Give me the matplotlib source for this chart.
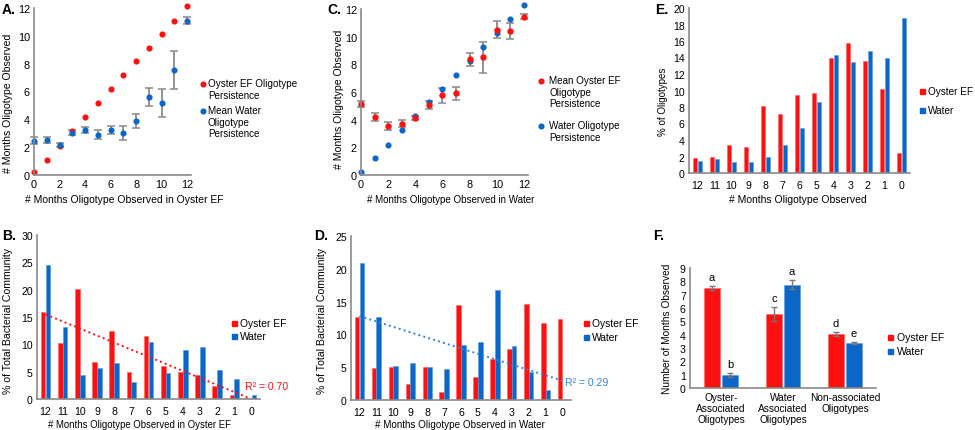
import matplotlib.pyplot as plt
import numpy as np

plt.rcParams['font.family'] = ['Liberation Sans', 'DejaVu Sans']

W, H = 975, 431
RED = '#ff1010'
BLUE = '#0a66c8'
GREY = '#8a8a8a'

# ---- data ----
months = np.arange(13)
month_labels = [str(m) for m in range(12, -1, -1)]

# A: persistence vs months seen in oyster EF
a_oyster = [0.2, 1.1, 2.1, 3.15, 4.2, 5.2, 6.15, 7.15, 8.2, 9.15, 10.15, 11.1, 12.15]
a_water = [2.45, 2.5, 2.15, 3.05, 3.25, 2.9, 3.25, 3.05, 3.9, 5.6, 5.2, 7.55, 11.1]
a_water_err = [0.25, 0.2, 0.15, 0.2, 0.2, 0.3, 0.3, 0.5, 0.5, 0.65, 1.0, 1.35, 0.25]

# C: persistence vs months seen in water
c_water = [0.25, 1.2, 2.2, 3.25, 4.25, 5.25, 6.25, 7.25, 8.25, 9.25, 10.3, 11.3, 12.3]
c_oyster = [5.15, 4.2, 3.55, 3.7, 4.15, 5.05, 5.75, 5.9, 8.35, 8.5, 10.5, 10.4, 11.45]
c_oyster_err = [0.2, 0.3, 0.3, 0.25, 0.15, 0.3, 0.55, 0.45, 0.45, 1.1, 0.6, 0.6, 0.2]

# E: % of oligotypes (months 12 -> 0)
e_oyster = [1.8, 2.0, 3.45, 3.1, 8.1, 7.15, 9.5, 9.7, 13.9, 15.7, 13.55, 10.2, 2.4]
e_water = [1.5, 1.65, 1.3, 1.3, 2.0, 3.45, 5.4, 8.65, 14.25, 13.4, 14.8, 13.9, 18.8]

# B: % of community, months in oyster EF (12 -> 0)
b_oyster = [16.0, 10.2, 20.1, 6.7, 12.5, 4.9, 11.6, 6.1, 4.9, 4.3, 2.4, 0.8, 0]
b_water = [24.5, 13.2, 4.3, 5.7, 6.5, 3.05, 10.5, 4.7, 9.0, 9.45, 5.3, 3.65, 0.65]

# D: % of community, months in water (12 -> 0)
d_oyster = [12.7, 4.9, 5.0, 2.4, 5.0, 1.2, 14.5, 3.45, 6.2, 7.8, 14.7, 11.8, 12.4]
d_water = [20.9, 12.6, 5.2, 5.7, 5.0, 4.8, 8.4, 8.9, 16.75, 8.2, 4.2, 1.6, 0]

# F: mean months observed by association
f_groups = ['Oyster-\nAssociated\nOligotypes', 'Water\nAssociated\nOligotypes',
            'Non-associated\nOligotypes']
f_oyster = [7.5, 5.55, 4.05]
f_oyster_err = [0.15, 0.5, 0.15]
f_water = [0.95, 7.75, 3.35]
f_water_err = [0.15, 0.35, 0.08]
f_oyster_sig = ['a', 'c', 'd']
f_water_sig = ['b', 'a', 'e']

fig = plt.figure(figsize=(W / 100, H / 100), dpi=100)


def add_ax(x0, y0, x1, y1):
    # pixel box (left, top, right, bottom) -> figure axes
    return fig.add_axes([x0 / W, 1 - y1 / H, (x1 - x0) / W, (y1 - y0) / H])


def style(ax, fs=7.8):
    for s in ['top', 'right']:
        ax.spines[s].set_visible(False)
    for s in ['left', 'bottom']:
        ax.spines[s].set_color(GREY)
        ax.spines[s].set_linewidth(1.2)
    ax.tick_params(length=0, labelsize=fs, pad=3)


def ftext(x, y, s, **kw):
    kw.setdefault('fontsize', 7.5)
    fig.text(x / W, 1 - y / H, s, **kw)


def fmark(x, y, color, marker):
    fig.add_artist(plt.Line2D([x / W], [1 - y / H], marker=marker, color=color,
                              markersize=3.4 if marker == 'o' else 3.6, linestyle='none'))


# ---- A ----
ax = add_ax(34, 9, 191, 176)
ax.errorbar(months, a_water, yerr=a_water_err, fmt='none', ecolor=GREY, elinewidth=1.3,
            capsize=2.8, capthick=1.1, clip_on=False)
ax.plot(months, a_oyster, 'o', color=RED, ms=3.4, clip_on=False)
ax.plot(months, a_water, 'o', color=BLUE, ms=3.4, clip_on=False)
ax.set_xlim(0, 12.3)
ax.set_ylim(0, 12)
ax.set_xticks(range(0, 13, 2))
ax.set_yticks(range(0, 13, 2))
style(ax)
ftext(124, 200, '# Months Oligotype Observed in Oyster EF', ha='center', va='center')
ftext(8, 103, '# Months Oligotype Observed', rotation=90, ha='center', va='center',
      fontsize=7.6)
fmark(203, 85, RED, 'o')
ftext(208, 79, 'Oyster EF Oligotype\nPersistence', va='top', linespacing=1.2, fontsize=7.1)
fmark(203, 112, BLUE, 'o')
ftext(208, 106, 'Mean Water\nOligotype\nPersistence', va='top', linespacing=1.2, fontsize=7.1)

# ---- C ----
ax = add_ax(361, 10, 528, 176)
ax.errorbar(months, c_oyster, yerr=c_oyster_err, fmt='none', ecolor=GREY, elinewidth=1.3,
            capsize=2.8, capthick=1.1, clip_on=False)
ax.plot(months, c_water, 'o', color=BLUE, ms=3.4, clip_on=False)
ax.plot(months, c_oyster, 'o', color=RED, ms=3.6, clip_on=False)
ax.set_xlim(0, 12.3)
ax.set_ylim(0, 12)
ax.set_xticks(range(0, 13, 2))
ax.set_yticks(range(0, 13, 2))
style(ax)
ftext(451, 200, '# Months Oligotype Observed in Water', ha='center', va='center', fontsize=7)
ftext(339, 99, '# Months Oligotype Observed', rotation=90, ha='center', va='center',
      fontsize=7.6)
fmark(541, 82, RED, 'o')
ftext(549, 76, 'Mean Oyster EF\nOligotype\nPersistence', va='top', linespacing=1.2, fontsize=7.1)
fmark(541, 127, BLUE, 'o')
ftext(549, 121, 'Water Oligotype\nPersistence', va='top', linespacing=1.2, fontsize=7.1)


# ---- bar helpers ----
def month_bars(ax, oyster, water, ymax, ystep):
    w = 0.27
    ax.bar(months - 0.14, oyster, w, color=RED, edgecolor='#ff6060', linewidth=0.4)
    ax.bar(months + 0.14, water, w, color=BLUE, edgecolor='#5a9ae0', linewidth=0.4)
    ax.set_xlim(-0.5, 12.5)
    ax.set_ylim(0, ymax)
    ax.set_xticks(months)
    ax.set_xticklabels(month_labels)
    ax.set_yticks(np.arange(0, ymax + 0.1, ystep))
    style(ax, 7.6)
    ax.tick_params(axis='x', pad=5)


# ---- E ----
ax = add_ax(689, 9, 910, 174)
month_bars(ax, e_oyster, e_water, 20, 2)
ftext(798, 200, '# Months Oligotype Observed', ha='center', va='center')
ftext(663, 102, '% of Oligotypes', rotation=90, ha='center', va='center', fontsize=7)
fmark(922, 92, RED, 's')
ftext(928, 92, 'Oyster EF', va='center', fontsize=7.2)
fmark(922, 111, BLUE, 's')
ftext(928, 111, 'Water', va='center', fontsize=7.2)

# ---- B ----
ax = add_ax(37, 236, 260, 400)
month_bars(ax, b_oyster, b_water, 30, 5)
fit = np.polyfit(months, b_oyster, 1)
ax.plot(months, np.polyval(fit, months), ':', color=RED, lw=1.4)
ftext(245, 387, 'R² = 0.70', color=RED, va='center', fontsize=7.6)
ftext(140, 425, '# Months Oligotype Observed in Oyster EF', ha='center', va='center',
      fontsize=6.9)
ftext(8, 321, '% of Total Bacterial Community', rotation=90, ha='center', va='center',
      fontsize=7.6)
fmark(234, 324, RED, 's')
ftext(240, 324, 'Oyster EF', va='center', fontsize=7.4)
fmark(234, 337, BLUE, 's')
ftext(240, 337, 'Water', va='center', fontsize=7.4)

# ---- D ----
ax = add_ax(351, 237, 571, 401)
month_bars(ax, d_oyster, d_water, 25, 5)
fit = np.polyfit(months, d_water, 1)
ax.plot(months, np.polyval(fit, months), ':', color='#2f86d6', lw=1.4)
ftext(565, 383, 'R² = 0.29', color='#2f86d6', va='center', fontsize=7.6)
ftext(460, 425, '# Months Oligotype Observed in Water', ha='center', va='center', fontsize=7.1)
ftext(322, 321, '% of Total Bacterial Community', rotation=90, ha='center', va='center',
      fontsize=7.6)
fmark(586, 324, RED, 's')
ftext(592, 324, 'Oyster EF', va='center', fontsize=7.4)
fmark(586, 338, BLUE, 's')
ftext(592, 338, 'Water', va='center', fontsize=7.4)

# ---- F ----
ax = add_ax(690, 269, 876, 389)
g = np.arange(len(f_groups))
w = 0.26
ax.bar(g - 0.145, f_oyster, w, yerr=f_oyster_err, color=RED, edgecolor='#ff6060', linewidth=0.4,
       error_kw=dict(ecolor='#777777', elinewidth=1, capsize=2.5))
ax.bar(g + 0.145, f_water, w, yerr=f_water_err, color=BLUE, edgecolor='#5a9ae0', linewidth=0.4,
       error_kw=dict(ecolor='#777777', elinewidth=1, capsize=2.5))
for i in g:
    ax.text(i - 0.145, f_oyster[i] + f_oyster_err[i] + 0.3, f_oyster_sig[i], ha='center',
            va='bottom', fontsize=8)
    ax.text(i + 0.145, f_water[i] + f_water_err[i] + 0.3, f_water_sig[i], ha='center',
            va='bottom', fontsize=8)
ax.set_xlim(-0.5, 2.5)
ax.set_ylim(0, 9)
ax.set_xticks(g)
ax.set_xticklabels(f_groups, linespacing=1.1)
ax.set_yticks(range(10))
style(ax, 7.6)
ax.tick_params(axis='x', pad=3, labelsize=7.3)
ftext(667, 329, 'Number of Months Observed', rotation=90, ha='center', va='center',
      fontsize=7.3)
fmark(890, 338, RED, 's')
ftext(897, 338, 'Oyster EF', va='center', fontsize=7.6)
fmark(890, 352, BLUE, 's')
ftext(897, 352, 'Water', va='center', fontsize=7.6)

# ---- panel letters ----
for s, x, y in [('A.', 2, 10), ('B.', 2, 236), ('C.', 327, 10),
                ('D.', 314, 236), ('E.', 655, 10), ('F.', 653, 236)]:
    ftext(x, y, s, fontsize=10, fontweight='bold', va='center')

fig.savefig('out.png', dpi=100)
